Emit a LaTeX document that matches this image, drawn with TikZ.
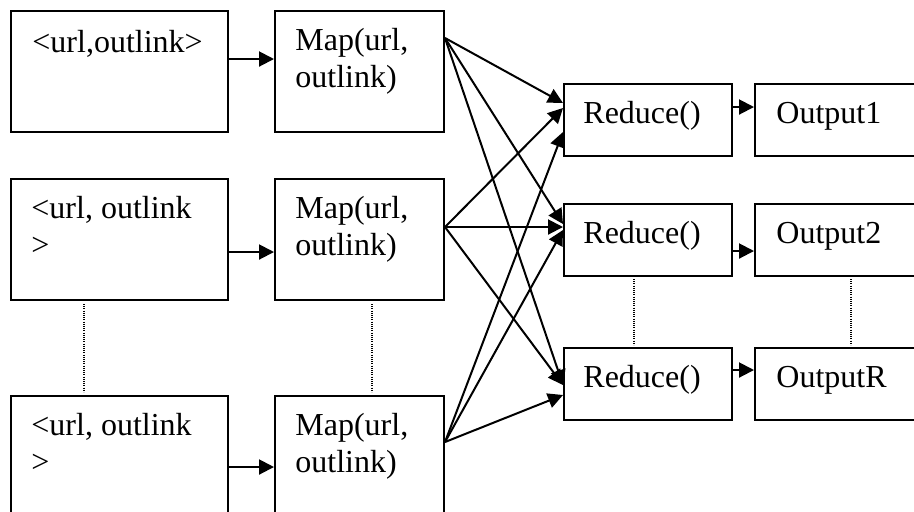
\documentclass[tikz,border=0pt]{standalone}
\usepackage{fontspec}
\setmainfont{Liberation Serif}
\usetikzlibrary{arrows.meta}
\begin{document}
\begin{tikzpicture}[x=0.5pt,y=-0.5pt,
  bx/.style={draw, line width=1pt, rectangle, inner sep=0pt, anchor=north west},
  lbox/.style={bx, minimum width=108.5pt, minimum height=60.5pt},
  mbox/.style={bx, minimum width=84.5pt, minimum height=60.5pt},
  rbox/.style={bx, minimum width=84pt, minimum height=36pt},
  obox/.style={bx, minimum width=85pt, minimum height=36pt},
  txt/.style={anchor=base west, inner sep=0pt, font=\fontsize{16}{18.5}\selectfont},
  arr/.style={-{Triangle[length=7.5pt,width=7.5pt]}, line width=1pt},
  dots/.style={line width=0.6pt, dash pattern=on 0.5pt off 0.6pt}
]
\useasboundingbox (0,0) rectangle (914,511);
\clip (0,0) rectangle (914,511);

% boxes
\node[lbox] (l1) at (10,10) {};
\node[mbox] (m1) at (274,10) {};
\node[lbox] (l2) at (10,178) {};
\node[mbox] (m2) at (274,178) {};
\node[lbox] (l3) at (10,395) {};
\node[mbox] (m3) at (274,395) {};
\node[rbox] (r1) at (563,83) {};
\node[rbox] (r2) at (563,203) {};
\node[rbox] (r3) at (563,347) {};
\node[obox] (o1) at (754,83) {};
\node[obox] (o2) at (754,203) {};
\node[obox] (o3) at (754,347) {};

% texts
\node[txt] (tl1) at (32,52) {<url,outlink>};
\node[txt] (tl2) at (31,218) {\parbox[t]{100pt}{\raggedright <url, outlink\\>}};
\node[txt] (tl3) at (31,435) {\parbox[t]{100pt}{\raggedright <url, outlink\\>}};
\node[txt] (tm1) at (295,50) {\parbox[t]{80pt}{\raggedright Map(url,\\outlink)}};
\node[txt] (tm2) at (295,218) {\parbox[t]{80pt}{\raggedright Map(url,\\outlink)}};
\node[txt] (tm3) at (295,435) {\parbox[t]{80pt}{\raggedright Map(url,\\outlink)}};
\node[txt] (tr1) at (583,123) {Reduce()};
\node[txt] (tr2) at (583,243) {Reduce()};
\node[txt] (tr3) at (583,387) {Reduce()};
\node[txt] (to1) at (776,123) {Output1};
\node[txt] (to2) at (776,243) {Output2};
\node[txt] (to3) at (776,387) {OutputR};

% input -> map
\draw[arr] ([yshift=-24.5pt]l1.north east) -- ([yshift=-24.5pt]m1.north west);
\draw[arr] ([yshift=-37pt]l2.north east) -- ([yshift=-37pt]m2.north west);
\draw[arr] ([yshift=-36pt]l3.north east) -- ([yshift=-36pt]m3.north west);

% map -> reduce
\draw[arr] ([yshift=-14pt]m1.north east) -- ([yshift=-10pt]r1.north west);
\draw[arr] ([yshift=-14pt]m1.north east) -- ([yshift=-10.5pt]r2.north west);
\draw[arr] ([yshift=-14pt]m1.north east) -- ([yshift=-19pt]r3.north west);
\draw[arr] ([yshift=-24.5pt]m2.north east) -- ([yshift=-12.5pt]r1.north west);
\draw[arr] ([yshift=-24.5pt]m2.north east) -- ([yshift=-12pt]r2.north west);
\draw[arr] ([yshift=-24.5pt]m2.north east) -- ([yshift=-19pt]r3.north west);
\draw[arr] ([yshift=-23.5pt]m3.north east) -- ([yshift=-24.5pt]r1.north west);
\draw[arr] ([yshift=-23.5pt]m3.north east) -- ([yshift=-13.5pt]r2.north west);
\draw[arr] ([yshift=-23.5pt]m3.north east) -- ([yshift=-24pt]r3.north west);

% reduce -> output
\draw[arr] ([yshift=-12pt]r1.north east) -- ([yshift=-12pt]o1.north west);
\draw[arr] ([yshift=-24pt]r2.north east) -- ([yshift=-24pt]o2.north west);
\draw[arr] ([yshift=-11.5pt]r3.north east) -- ([yshift=-11.5pt]o3.north west);

% dotted continuation lines
\draw[dots] ([xshift=-17.75pt,yshift=-1.5pt]l2.south) -- ([xshift=-17.75pt,yshift=1.5pt]l3.north);
\draw[dots] ([xshift=6.25pt,yshift=-1.5pt]m2.south) -- ([xshift=6.25pt,yshift=1.5pt]m3.north);
\draw[dots] ([xshift=-7pt,yshift=-1pt]r2.south) -- ([xshift=-7pt,yshift=1pt]r3.north);
\draw[dots] ([xshift=48.5pt,yshift=-1pt]o2.south west) -- ([xshift=48.5pt,yshift=1pt]o3.north west);
\end{tikzpicture}
\end{document}
